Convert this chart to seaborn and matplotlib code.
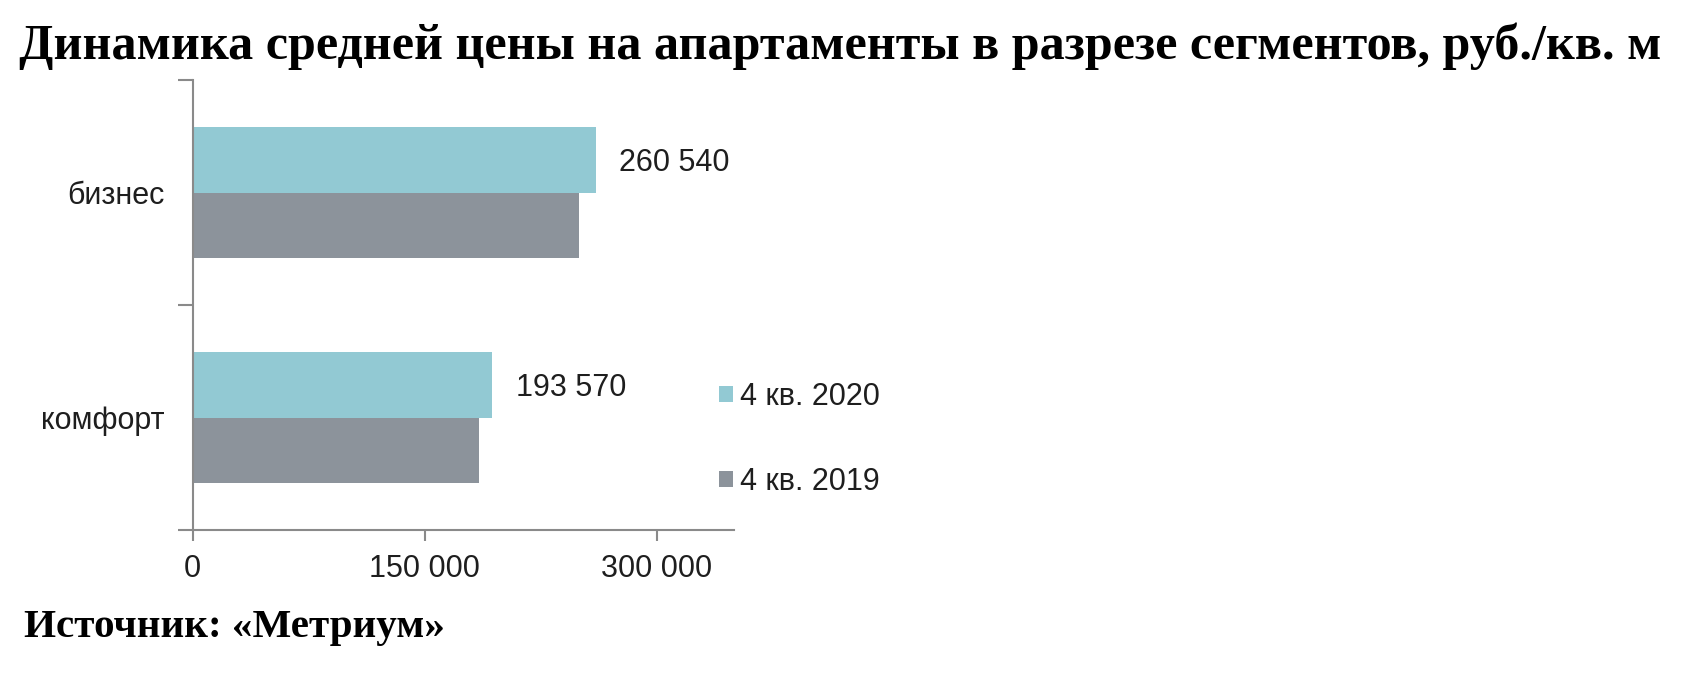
import matplotlib
matplotlib.use("Agg")
import matplotlib.pyplot as plt
import numpy as np
import pandas as pd
import seaborn as sns
from matplotlib.ticker import FixedLocator

# ---- data ----
segments = ["бизнес", "комфорт"]
periods = ["4 кв. 2020", "4 кв. 2019"]
price_2020 = [260540, 193570]
price_2019 = [250000, 185400]
labels_2020 = ["260 540", "193 570"]
x_ticks = [0, 150000, 300000]
x_tick_labels = ["0", "150 000", "300 000"]
title_text = "Динамика средней цены на апартаменты в разрезе сегментов, руб./кв. м"
source_text = "Источник: «Метриум»"

df = pd.DataFrame({
    "segment": segments * 2,
    "period": [periods[0]] * len(segments) + [periods[1]] * len(segments),
    "price": price_2020 + price_2019,
})

sns.set_theme(style="white")
plt.rcParams["font.family"] = ["Liberation Sans", "DejaVu Sans"]

TXT = "#1e1e1e"
AXC = "#8a8a8a"
FS = 22

fig = plt.figure(figsize=(16.93, 6.92), dpi=100)
ax = fig.add_axes([192.7 / 1693, 1 - 530 / 692, (734 - 192.7) / 1693, (530 - 80) / 692])

sns.barplot(data=df, y="segment", x="price", hue="period", hue_order=periods,
            order=segments, palette=["#92C9D3", "#8C939B"], width=0.578,
            orient="h", ax=ax, saturation=1, errorbar=None, linewidth=0)

value_texts = ax.bar_label(ax.containers[0], labels=labels_2020, padding=17,
                           fontsize=FS, color=TXT)
for t in value_texts:
    t.set_verticalalignment("center_baseline")

ax.set_xlim(0, 350000)
ax.set_ylim(1.5, -0.5)
ax.set_xlabel("")
ax.set_ylabel("")
sns.despine(ax=ax)
for s in ("left", "bottom"):
    ax.spines[s].set_color(AXC)
    ax.spines[s].set_linewidth(1.5)

ax.set_xticks(x_ticks, x_tick_labels)
ax.tick_params(axis="x", bottom=True, length=8, width=1.5, color=AXC, pad=9,
               labelsize=FS, labelcolor=TXT, direction="out")
ax.tick_params(axis="y", which="major", left=False, length=0, pad=20,
               labelsize=FS, labelcolor=TXT)
ax.yaxis.set_minor_locator(FixedLocator([-0.5, 0.5, 1.5]))
ax.tick_params(axis="y", which="minor", left=True, length=11, width=1.5,
               color=AXC, direction="out")

handles, labels = ax.get_legend_handles_labels()
ax.legend(handles, labels, loc="center left",
          bbox_to_anchor=(719 / 1693, 1 - 439.5 / 692), bbox_transform=fig.transFigure,
          frameon=False, fontsize=FS, handlelength=0.45, handleheight=0.45,
          handletextpad=0.25, labelspacing=1.8, borderpad=0, borderaxespad=0,
          labelcolor=TXT)

title = fig.text(19 / 1693, 1 - 59 / 692, title_text, fontfamily="Liberation Serif",
                 fontweight="bold", fontsize=36, va="baseline", color="black")
source = fig.text(24 / 1693, 1 - 637 / 692, source_text, fontfamily="Liberation Serif",
                  fontweight="bold", fontsize=24, va="baseline", color="black")


def fit_width(t, target_px):
    fig.canvas.draw()
    r = fig.canvas.get_renderer()
    w = t.get_window_extent(r).width
    t.set_fontsize(t.get_fontsize() * target_px / w)


fit_width(title, 1644)
fit_width(source, 421)

fig.savefig("out.png", dpi=100)
